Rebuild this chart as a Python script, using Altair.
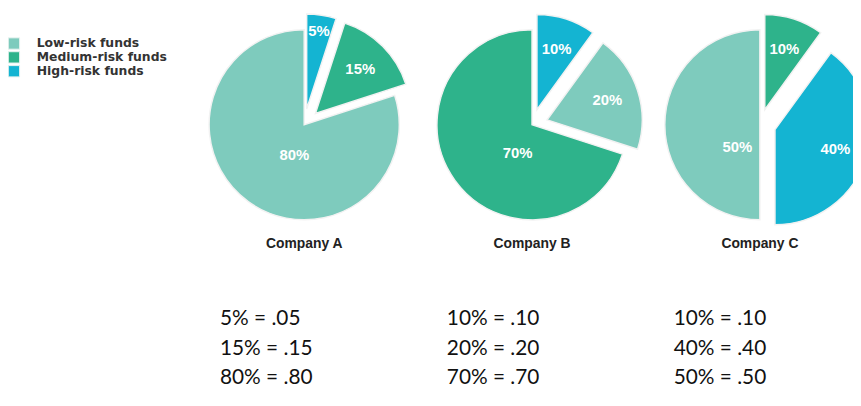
import math
import altair as alt
import pandas as pd

# ---- data ----
companies = ["Company A", "Company B", "Company C"]
categories = ["Low-risk funds", "Medium-risk funds", "High-risk funds"]
low_risk = [80, 20, 50]
medium_risk = [15, 70, 10]
high_risk = [5, 10, 40]
colors = ["#7ecbbd", "#2eb38b", "#14b4d2"]

# ---- layout / style ----
W, H = 853, 390
R = 96
EXPLODE = 16
PIE_X0, PIE_DX, PIE_Y = 299, 230, 116
COL_X0, COL_DX, ROW_Y0, ROW_DY = 214, 229, 312, 30

rows = []
for ci, comp in enumerate(companies):
    vals = [low_risk[ci], medium_risk[ci], high_risk[ci]]
    for cat, v in zip(categories, vals):
        rows.append({"company": comp, "ci": ci, "category": cat, "value": v})
df = pd.DataFrame(rows)

comp_df = pd.DataFrame({"company": companies, "ci": list(range(len(companies)))})
legend_df = pd.DataFrame({"category": categories, "i": list(range(len(categories)))})

x_scale = alt.Scale(domain=[0, W], range=[0, W])
y_scale = alt.Scale(domain=[0, H], range=[0, H])
theta_scale = alt.Scale(domain=[0, 1], range=[0, 2 * math.pi])
color_scale = alt.Scale(domain=categories, range=colors)

base = (
    alt.Chart(df)
    .transform_window(cum="sum(value)", sort=[alt.SortField("value", order="ascending")],
                      groupby=["company"], frame=[None, 0])
    .transform_window(rank="rank()", sort=[alt.SortField("value", order="ascending")],
                      groupby=["company"])
    .transform_joinaggregate(total="sum(value)", maxv="max(value)", groupby=["company"])
    .transform_calculate(
        t0="(datum.cum - datum.value) / datum.total",
        t1="datum.cum / datum.total",
    )
    .transform_calculate(mid="(datum.t0 + datum.t1) * PI")
    .transform_calculate(ex=f"datum.value == datum.maxv ? 0 : {EXPLODE}")
    .transform_calculate(
        cx=f"{PIE_X0} + {PIE_DX} * datum.ci + datum.ex * sin(datum.mid)",
        cy=f"{PIE_Y} - datum.ex * cos(datum.mid)",
        la="datum.value == datum.maxv ? PI / 2 + datum.mid / 2 : datum.mid",
        lr="datum.value == datum.maxv ? 32 : (datum.value < 8 ? 80 : 64)",
        label="datum.value + '%'",
    )
    .transform_calculate(
        lx="datum.cx + datum.lr * sin(datum.la)",
        ly="datum.cy - datum.lr * cos(datum.la)",
        eq="(datum.value < 10 ? '\u00a0' : '') + datum.value + '% = .' + (datum.value < 10 ? '0' : '') + datum.value",
        ex2=f"{COL_X0} + {COL_DX} * datum.ci",
        ey=f"{ROW_Y0} + {ROW_DY} * (datum.rank - 1)",
    )
)

arcs = base.mark_arc(outerRadius=R, stroke="#f2f2f2", strokeWidth=1.5).encode(
    x=alt.X("cx:Q", scale=x_scale, axis=None),
    y=alt.Y("cy:Q", scale=y_scale, axis=None),
    theta=alt.Theta("t0:Q", scale=theta_scale),
    theta2="t1:Q",
    color=alt.Color("category:N", scale=color_scale, legend=None),
)

labels = base.mark_text(font="Liberation Sans", fontWeight="bold", fontSize=15,
                        color="white", align="center", baseline="middle").encode(
    x=alt.X("lx:Q", scale=x_scale, axis=None),
    y=alt.Y("ly:Q", scale=y_scale, axis=None),
    text="label:N",
)

equations = base.mark_text(font="Lato", fontSize=21, color="#111111",
                           align="left", baseline="middle").encode(
    x=alt.X("ex2:Q", scale=x_scale, axis=None),
    y=alt.Y("ey:Q", scale=y_scale, axis=None),
    text="eq:N",
)

comp_labels = (
    alt.Chart(comp_df)
    .transform_calculate(px=f"{PIE_X0} + {PIE_DX} * datum.ci")
    .mark_text(font="Liberation Sans", fontWeight="bold", fontSize=14, color="#222222",
               align="center", baseline="middle")
    .encode(
        x=alt.X("px:Q", scale=x_scale, axis=None),
        y=alt.value(236),
        text="company:N",
    )
)

legend_base = alt.Chart(legend_df).transform_calculate(
    ly="34 + 14 * datum.i", sx="6", tx="29"
)
legend_sw = legend_base.mark_square(size=130, opacity=1, stroke="#e6f2ef", strokeWidth=1).encode(
    x=alt.X("sx:Q", scale=x_scale, axis=None),
    y=alt.Y("ly:Q", scale=y_scale, axis=None),
    color=alt.Color("category:N", scale=color_scale, legend=None),
)
legend_tx = legend_base.mark_text(font="DejaVu Sans", fontWeight="bold", fontSize=12.5,
                                  color="#333333", align="left", baseline="middle").encode(
    x=alt.X("tx:Q", scale=x_scale, axis=None),
    y=alt.Y("ly:Q", scale=y_scale, axis=None),
    text="category:N",
)

chart = (
    alt.layer(arcs, labels, comp_labels, equations, legend_sw, legend_tx)
    .properties(width=W, height=H, autosize=alt.AutoSizeParams(type="none"), padding=0)
    .configure_view(stroke=None)
)

chart.save("out.html", embed_options={"renderer": "svg", "actions": False})
